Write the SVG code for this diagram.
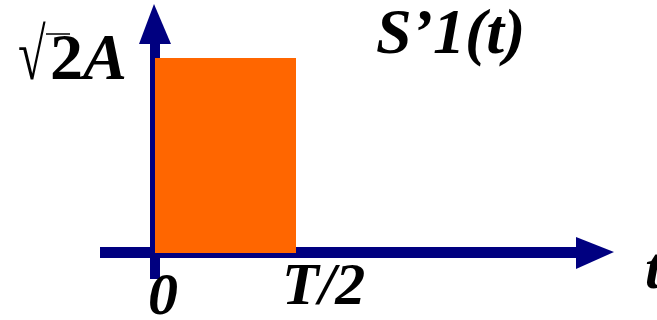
<svg xmlns="http://www.w3.org/2000/svg" width="657" height="320" viewBox="0 0 657 320">
<style>
.lbl{font-family:"Liberation Serif","Times New Roman",serif;font-weight:bold;font-style:italic;fill:#000}
.ax{fill:#000080}
</style>
<rect width="657" height="320" fill="#fff"/>
<g id="axes">
<rect class="ax" x="150" y="40" width="10" height="239"/>
<polygon class="ax" points="154,4 139,44 171,44"/>
<rect class="ax" x="100" y="247" width="480" height="11"/>
<polygon class="ax" points="614,252 576,237 576,269"/>
</g>
<g id="pulse">
<rect x="155" y="58" width="141" height="195" fill="#ff6600"/>
</g>
<g id="labels">
<text transform="translate(18,79) scale(0.9,1.3)" font-family="Liberation Serif, serif" font-size="56" fill="#000">√</text>
<line x1="46" y1="34" x2="70" y2="34" stroke="#000" stroke-width="1.5"/>
<text x="50" y="79" style="font-family:'Liberation Serif',serif;font-weight:bold;font-size:66px;fill:#000">2<tspan style="font-style:italic">A</tspan></text>
<text class="lbl" x="376" y="53" font-size="64">S’1(t)</text>
<text class="lbl" x="148" y="314" font-size="60">0</text>
<text class="lbl" x="282" y="304" font-size="60">T/2</text>
<text class="lbl" x="645" y="288" font-size="60">t</text>
</g>
</svg>
